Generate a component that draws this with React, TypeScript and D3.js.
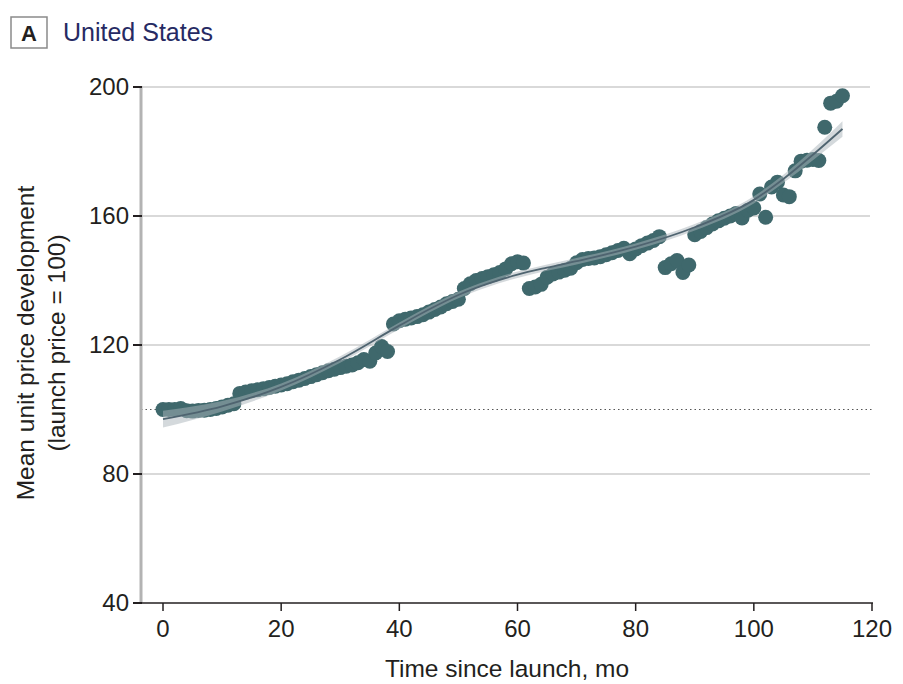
import React from "react";
import * as d3 from "d3";

// monthly mean unit price index, month 0..115
const months = d3.range(0, 116);
const priceIndex = [
  100, 100, 100, 100.3, 99.6, 99.5, 99.7, 99.8, 100, 100.3,
  100.8, 101.3, 101.8, 105, 105.4, 105.8, 106.1, 106.4, 106.8, 107.2,
  107.6, 108, 108.6, 109.1, 109.6, 110.2, 110.8, 111.4, 112, 112.5,
  113, 113.4, 113.8, 114.5, 115.5, 115, 117.5, 119.5, 118, 126.5,
  127.5, 128, 128.4, 128.8, 129.4, 130.2, 131, 131.8, 132.8, 133.5,
  134.2, 137.5, 139, 140, 140.6, 141.2, 141.8, 142.5, 143.6, 145.2,
  145.8, 145.4, 137.5, 138, 138.8, 141, 142, 142.6, 143.2, 143.8,
  145.5, 146.5, 146.8, 147, 147.4, 148, 148.6, 149.3, 150, 148.3,
  149.8, 150.8, 151.6, 152.4, 153.6, 144, 145.2, 146.2, 142.5, 144.8,
  154.2, 155.2, 156.4, 157.5, 158.5, 159.3, 160, 160.8, 159.4, 161.8,
  162.5, 166.8, 159.6, 169, 170.5, 166.5, 166, 174, 177, 177.3,
  177.5, 177.2, 187.5, 195, 195.6, 197.3,
];

// fitted trend with confidence band
const fitMonths = [0, 10, 20, 30, 40, 45, 50, 55, 60, 65, 70, 80, 90, 100, 105, 110, 115];
const fitValues = [97, 101, 107, 115.5, 126, 131, 135.5, 139, 141.8, 144, 146, 150.5, 156.5, 165, 171.5, 179, 187];
const fitHalfWidth = [2.6, 1.6, 1.1, 1, 1, 1, 1, 1, 1, 1, 1, 1, 1, 1.1, 1.3, 1.7, 2.4];

const xTicks = [0, 20, 40, 60, 80, 100, 120];
const yTicks = [40, 80, 120, 160, 200];
const gridTicks = [80, 120, 160, 200];

const FONT = "'Liberation Sans', Arial, sans-serif";
const TEXT = "#231f20";

export default function App() {
  const width = 903, height = 684;
  const x = d3.scaleLinear().domain([0, 120]).range([163, 872]);
  const y = d3.scaleLinear().domain([40, 200]).range([603, 87]);
  const axisLeft = 141;

  const fit = fitMonths.map((m, i) => ({ m, v: fitValues[i], h: fitHalfWidth[i] }));
  const line = d3.line<any>().x(d => x(d.m)).y(d => y(d.v)).curve(d3.curveMonotoneX);
  const band = d3.area<any>()
    .x(d => x(d.m))
    .y0(d => y(d.v - d.h))
    .y1(d => y(d.v + d.h))
    .curve(d3.curveMonotoneX);

  return (
    <svg width={width} height={height} style={{ position: "absolute", left: 0, top: 0, background: "#fff" }}
      fontFamily={FONT}>
      {/* panel label */}
      <rect x={11} y={17} width={36} height={31} fill="none" stroke="#8a8a8a" strokeWidth={1.5} />
      <text x={29} y={41} textAnchor="middle" fontSize={22} fontWeight="bold" fill={TEXT}>A</text>
      <text x={63} y={41} fontSize={25} fill="#262a63">United States</text>

      {/* grid */}
      {gridTicks.map(t => (
        <line key={t} x1={axisLeft} x2={870} y1={y(t)} y2={y(t)} stroke="#d9d9d9" strokeWidth={2} />
      ))}
      <line x1={axisLeft} x2={872} y1={y(100)} y2={y(100)} stroke="#555" strokeWidth={1.2} strokeDasharray="1.5 3" />

      {/* axes */}
      <line x1={axisLeft} x2={axisLeft} y1={y(200) - 1} y2={y(40)} stroke="#b3b3b3" strokeWidth={3} />
      {yTicks.map(t => (
        <g key={t}>
          <line x1={133} x2={axisLeft + 1} y1={y(t)} y2={y(t)} stroke="#231f20" strokeWidth={2} />
          <text x={129} y={y(t)} dy="0.35em" textAnchor="end" fontSize={24} fill={TEXT}>{t}</text>
        </g>
      ))}
      <line x1={axisLeft} x2={873} y1={y(40)} y2={y(40)} stroke="#231f20" strokeWidth={1.5} />
      {xTicks.map(t => (
        <g key={t}>
          <line x1={x(t)} x2={x(t)} y1={y(40)} y2={y(40) + 8} stroke="#231f20" strokeWidth={1.5} />
          <text x={x(t)} y={637} textAnchor="middle" fontSize={24} fill={TEXT}>{t}</text>
        </g>
      ))}

      {/* points */}
      {months.map((m, i) => (
        <circle key={m} cx={x(m)} cy={y(priceIndex[i])} r={7.5} fill="#3f686c" />
      ))}

      {/* fitted curve */}
      <path d={band(fit) || ""} fill="#aab4ba" opacity={0.5} />
      <path d={line(fit) || ""} fill="none" stroke="#4f6470" strokeWidth={1.8} />

      {/* axis titles */}
      <text x={507} y={677} textAnchor="middle" fontSize={24.5} fill={TEXT}>Time since launch, mo</text>
      <g transform={`translate(25, 343) rotate(-90)`}>
        <text x={0} y={0} dy="0.35em" textAnchor="middle" fontSize={24.5} fill={TEXT}>Mean unit price development</text>
      </g>
      <g transform={`translate(56, 343) rotate(-90)`}>
        <text x={0} y={0} dy="0.35em" textAnchor="middle" fontSize={24.5} fill={TEXT}>(launch price = 100)</text>
      </g>
    </svg>
  );
}
